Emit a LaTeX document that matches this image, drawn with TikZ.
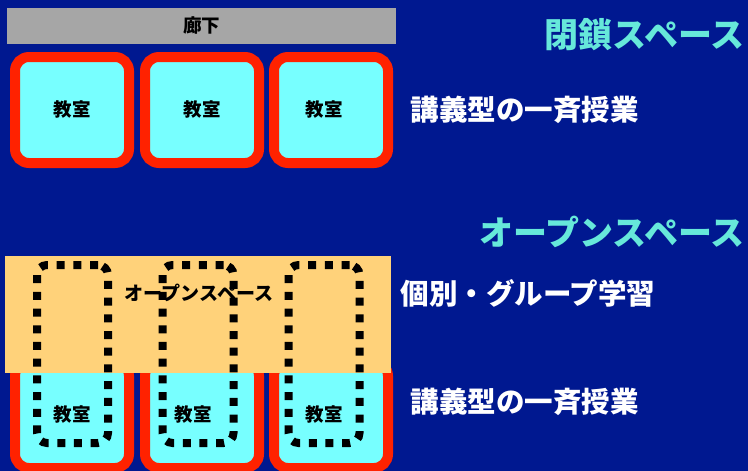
\documentclass[tikz,border=0pt]{standalone}
\usepackage{fontspec}
\setmainfont{Noto Sans CJK JP}
\usetikzlibrary{positioning}
\definecolor{bg}{HTML}{001890}
\definecolor{roomcyan}{HTML}{77FFFF}
\definecolor{roomred}{HTML}{FF2200}
\definecolor{hallgray}{HTML}{A6A6A6}
\definecolor{openorange}{HTML}{FFD27A}
\definecolor{headcyan}{HTML}{66E8DA}

\begin{document}
\begin{tikzpicture}[x=1pt, y=-1pt,
        room/.style={draw=roomred, line width=10pt, fill=roomcyan, rounded corners=14pt,
            minimum width=114pt, minimum height=106pt, inner sep=0pt,
            font=\fontsize{18.5}{20}\selectfont\bfseries},
        group/.style={draw=black, line width=8pt, dash pattern=on 8pt off 8.7pt,
            rounded corners=10pt, minimum width=71pt, minimum height=178pt},
        head/.style={text=headcyan, anchor=east, font=\fontsize{34}{36}\selectfont\bfseries},
        mode/.style={text=white, anchor=west, font=\fontsize{28.5}{30}\selectfont\bfseries}]
        \fill [bg] (0, 0) rectangle (748, 471);
        \useasboundingbox (0, 0) rectangle (748, 471);

        % closed space
        \node [fill=hallgray, minimum width=389pt, minimum height=36pt, inner sep=0pt,
            font=\fontsize{18.5}{20}\selectfont\bfseries] (hall) at (201.5, 26) {廊下};
        \node [room] (C1) at (72, 110) {教室};
        \node [room] (C2) at (202, 110) {教室};
        \node [room] (C3) at (331, 110) {\hspace{-14pt}教室};

        % open space
        \node [room] (O1) at (72, 415) {\raisebox{-3pt}{教室}};
        \node [room] (O2) at (202, 415) {\hspace{-18pt}\raisebox{-3pt}{教室}};
        \node [room] (O3) at (331, 415) {\hspace{-14pt}\raisebox{-3pt}{教室}};
        \node [fill=openorange, minimum width=386pt, minimum height=117pt, inner sep=0pt] (open) at (198, 314.5) {};
        \node [font=\fontsize{19}{20}\selectfont\bfseries] (openlabel) at (199, 293) {オープンスペース};
        \node [group] (G1) at (72.5, 354) {};
        \node [group] (G2) at (198, 354) {};
        \node [group] (G3) at (324, 354) {};

        % captions
        \node [head] (closedhead) at (748, 35) {閉鎖スペース};
        \node [mode] (lecture1) at (407, 110) {講義型の一斉授業};
        \node [head] (openhead) at (748, 232) {オープンスペース};
        \node [mode] (groupwork) at (397, 293) {個別・グループ学習};
        \node [mode] (lecture2) at (407, 402) {講義型の一斉授業};
    \end{tikzpicture}
\end{document}
